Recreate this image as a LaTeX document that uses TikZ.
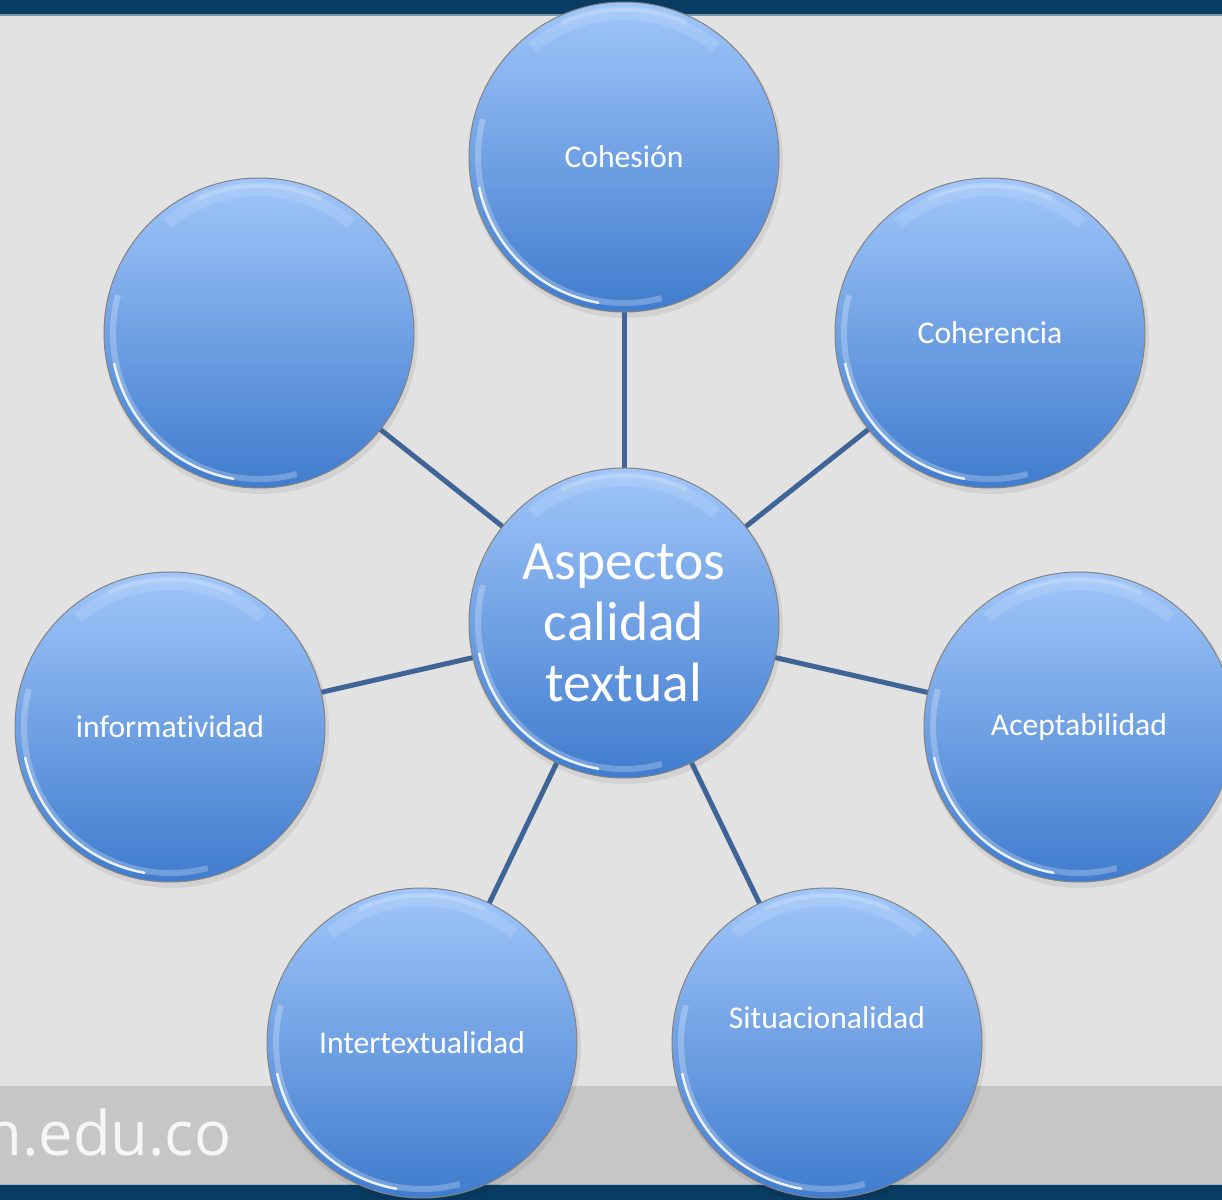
\documentclass[tikz,border=0pt]{standalone}
\usepackage{fontspec}
\setmainfont{Carlito}[Ligatures={NoCommon}]
\newfontfamily\urlfont{Open Sans}
\usetikzlibrary{calc}
\pgfdeclarelayer{back}
\pgfdeclarelayer{lines}
\pgfsetlayers{back,lines,main}
\definecolor{bandblue}{RGB}{9,60,98}
\definecolor{bandline}{RGB}{120,150,172}
\definecolor{bgray}{RGB}{226,226,226}
\definecolor{stripgray}{RGB}{198,198,198}
\definecolor{btop}{RGB}{160,198,250}
\definecolor{bbot}{RGB}{64,124,206}
\definecolor{linkblue}{RGB}{62,101,150}
\definecolor{rimgray}{RGB}{130,130,130}
\newcommand\bubblerim[1]{%
  \draw[white, opacity=.25, line width=0.6mm] (#1.center) ++(75:146) arc[start angle=75, end angle=195, radius=146];
  \draw[white, opacity=.85, line width=0.25mm, line cap=round] (#1.center) ++(100:148) arc[start angle=100, end angle=168, radius=148];
  \draw[white, opacity=.12, line width=1.2mm] (#1.center) ++(-50:143) arc[start angle=-50, end angle=-130, radius=143];
  \draw[white, opacity=.18, line width=0.5mm] (#1.center) ++(-65:148) arc[start angle=-65, end angle=-115, radius=148];
}
\begin{document}
\begin{tikzpicture}[x=0.1mm,y=-0.1mm,
  bubble/.style={circle, minimum size=31mm, inner sep=0pt, draw=rimgray, line width=0.1mm,
    top color=btop, bottom color=bbot, text=white, align=center,
    font=\fontsize{9}{11}\selectfont},
  bubbletext/.style={text=white, inner sep=0pt, font=\fontsize{9}{11}\selectfont},
  link/.style={draw=linkblue, line width=0.5mm},
  shadowdisc/.style={fill=black, opacity=.07}]
\useasboundingbox (0,0) rectangle (1222,1200);
\clip (0,0) rectangle (1222,1200);
\begin{pgfonlayer}{back}
  \fill[bgray] (0,0) rectangle (1222,1200);
  \fill[stripgray] (0,1086) rectangle (1222,1184);
  \fill[bandblue] (0,0) rectangle (1222,14);
  \draw[bandline, line width=0.15mm] (0,14.8) -- (1222,14.8);
  \fill[bandblue] (0,1185) rectangle (1222,1200);
  \draw[bandline!70!white, line width=0.15mm] (0,1184.5) -- (1222,1184.5);
\end{pgfonlayer}
\node[text=white, opacity=.85, anchor=base east, inner sep=0pt,
  font=\urlfont\fontsize{17.5}{20}\selectfont] (url) at (232,1155) {n.edu.co};
% bubbles
\node[bubble] (coh) at (624,157) {Cohesión};
\node[bubble] (blank) at (259,333) {};
\node[bubble] (cohe) at (990,333) {Coherencia};
\node[bubble] (inf) at (170,727) {informatividad};
\node[bubble] (acep) at (1079,727) {Aceptabilidad};
\node[bubble] (inter) at (422,1043) {Intertextualidad};
\node[bubble] (sit) at (827,1043) {};
\node[bubbletext] (sitlab) at (827,1018) {Situacionalidad};
\node[bubble, font=\fontsize{15.8}{17.3}\selectfont] (core) at (624,623) {Aspectos\\calidad\\textual};
\foreach \n in {coh,blank,cohe,inf,acep,inter,sit,core} {\bubblerim{\n}}
\begin{pgfonlayer}{lines}
  \foreach \n in {coh,blank,cohe,inf,acep,inter,sit,core}
    {\fill[shadowdisc] ($(\n.center)+(2,4)$) circle[radius=157];}
  \foreach \n in {coh,blank,cohe,inf,acep,inter,sit}
    {\draw[link] (core.center) -- (\n.center);}
\end{pgfonlayer}
\end{tikzpicture}
\end{document}
